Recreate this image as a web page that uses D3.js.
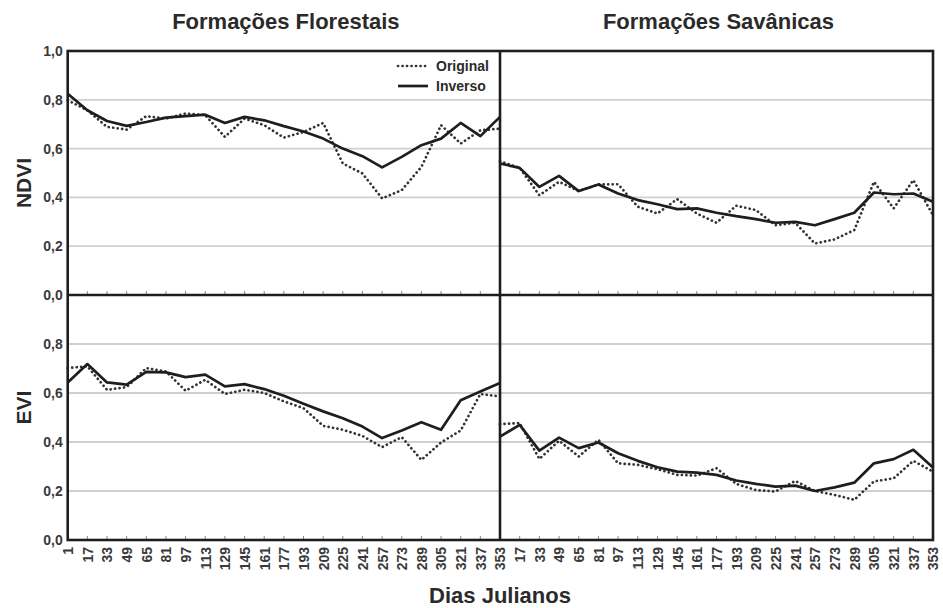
<!DOCTYPE html>
<html><head><meta charset="utf-8">
<script src="https://cdn.jsdelivr.net/npm/d3@7"></script>
<style>
body{margin:0;background:#fff;}
text{font-family:"Liberation Sans",Arial,sans-serif;font-weight:bold;}
</style></head>
<body><svg id="c" width="943" height="608"></svg>
<script>
const days = [1,17,33,49,65,81,97,113,129,145,161,177,193,209,225,241,257,273,289,305,321,337,353];
const panelTitles = ["Formações Florestais","Formações Savânicas"];
const indexNames = ["NDVI","EVI"];
const seriesNames = ["Original","Inverso"];
const yTicks = [0,0.2,0.4,0.6,0.8,1.0];

// NDVI - Formações Florestais
const ndviFlorOriginal = [0.798,0.757,0.689,0.678,0.733,0.723,0.744,0.737,0.648,0.723,0.696,0.645,0.668,0.705,0.539,0.498,0.396,0.430,0.525,0.696,0.621,0.675,0.682];
const ndviFlorInverso  = [0.825,0.757,0.713,0.693,0.709,0.727,0.733,0.739,0.705,0.730,0.716,0.692,0.670,0.641,0.600,0.569,0.523,0.566,0.614,0.641,0.705,0.651,0.730];
// NDVI - Formações Savânicas
const ndviSavOriginal = [0.548,0.521,0.409,0.464,0.426,0.453,0.454,0.362,0.334,0.393,0.334,0.296,0.366,0.348,0.286,0.296,0.211,0.228,0.266,0.464,0.355,0.471,0.327];
const ndviSavInverso  = [0.539,0.521,0.443,0.488,0.426,0.453,0.416,0.389,0.372,0.352,0.355,0.337,0.323,0.311,0.296,0.300,0.286,0.311,0.337,0.420,0.413,0.416,0.382];
// EVI - Formações Florestais
const eviFlorOriginal = [0.702,0.709,0.613,0.624,0.702,0.688,0.609,0.654,0.596,0.613,0.600,0.566,0.538,0.466,0.450,0.425,0.379,0.420,0.327,0.398,0.447,0.596,0.586];
const eviFlorInverso  = [0.643,0.718,0.643,0.634,0.686,0.684,0.665,0.675,0.627,0.636,0.616,0.589,0.556,0.525,0.497,0.463,0.416,0.447,0.481,0.450,0.570,0.606,0.641];
// EVI - Formações Savânicas
const eviSavOriginal = [0.473,0.477,0.331,0.405,0.341,0.409,0.313,0.307,0.289,0.266,0.263,0.293,0.229,0.204,0.198,0.241,0.200,0.184,0.164,0.239,0.252,0.323,0.279];
const eviSavInverso  = [0.422,0.470,0.365,0.418,0.375,0.398,0.354,0.323,0.297,0.279,0.275,0.266,0.243,0.229,0.218,0.222,0.200,0.215,0.234,0.313,0.330,0.368,0.296];

const panels = [
  {row:0,col:0,orig:ndviFlorOriginal,inv:ndviFlorInverso},
  {row:0,col:1,orig:ndviSavOriginal,inv:ndviSavInverso},
  {row:1,col:0,orig:eviFlorOriginal,inv:eviFlorInverso},
  {row:1,col:1,orig:eviSavOriginal,inv:eviSavInverso}
];

const svg = d3.select("#c");
const L = 67.7, M = 500, R = 933;
const T = 51, MY = 295, B = 540;
const colX = [[L,M],[M,R]];
const rowY = [[MY,T],[B,MY]];
const xs = colX.map(r => d3.scaleLinear().domain([1,353]).range(r));
const ys = rowY.map(r => d3.scaleLinear().domain([0,1]).range(r));

const ink = "#1e1e1e", gray = "#3a3a3a";

// gridlines
const g = svg.append("g");
[0,1].forEach(row=>{
  yTicks.filter(v=>v>0 && v<1).forEach(v=>{
    g.append("line").attr("x1",L).attr("x2",R).attr("y1",ys[row](v)).attr("y2",ys[row](v))
     .attr("stroke","#cfcfcf").attr("stroke-width",1.8);
  });
});

// small tick marks at bottom of each panel
[0,1].forEach(row=>{
  [0,1].forEach(col=>{
    days.forEach(d=>{
      const x = xs[col](d);
      g.append("line").attr("x1",x).attr("x2",x).attr("y1",ys[row](0)).attr("y2",ys[row](0)-4)
       .attr("stroke","#888").attr("stroke-width",1);
    });
  });
});

// data lines
panels.forEach(p=>{
  const line = d3.line().x((d,i)=>xs[p.col](days[i])).y(d=>ys[p.row](d));
  svg.append("path").attr("d",line(p.orig)).attr("fill","none").attr("stroke","#333")
    .attr("stroke-width",2.7).attr("stroke-dasharray","0.1,4.4").attr("stroke-linecap","round");
  svg.append("path").attr("d",line(p.inv)).attr("fill","none").attr("stroke",ink)
    .attr("stroke-width",2.7).attr("stroke-linejoin","round");
});

// frame
const f = svg.append("g").attr("stroke",ink).attr("stroke-width",2.6).attr("fill","none");
f.append("rect").attr("x",L).attr("y",T).attr("width",R-L).attr("height",B-T);
f.append("line").attr("x1",M).attr("x2",M).attr("y1",T).attr("y2",B);
f.append("line").attr("x1",L).attr("x2",R).attr("y1",MY).attr("y2",MY);

// y tick labels
const yAxisL = d3.axisLeft(ys[0]).tickValues(yTicks).tickSize(0).tickPadding(4)
  .tickFormat(d=>d3.format(".1f")(d).replace(".",","));
const ya = svg.append("g").attr("transform",`translate(${L-1},0)`).call(yAxisL);
const yAxisL2 = d3.axisLeft(ys[1]).tickValues(yTicks.filter(v=>v<1)).tickSize(0).tickPadding(4)
  .tickFormat(d=>d3.format(".1f")(d).replace(".",","));
const yb = svg.append("g").attr("transform",`translate(${L-1},0)`).call(yAxisL2);
[ya,yb].forEach(a=>{
  a.select(".domain").remove();
  a.selectAll("text").attr("font-size",14).attr("fill",gray).style("font-weight","bold")
   .attr("font-family","Liberation Sans, Arial, sans-serif");
});

// x tick labels
[0,1].forEach(col=>{
  const vals = col===0 ? days : days.slice(1);
  const ax = d3.axisBottom(xs[col]).tickValues(vals).tickSize(0).tickFormat(d3.format("d"));
  const a = svg.append("g").attr("transform",`translate(0,${B})`).call(ax);
  a.select(".domain").remove();
  a.selectAll("text").attr("font-size",14).attr("fill",gray).style("font-weight","bold")
   .attr("font-family","Liberation Sans, Arial, sans-serif")
   .attr("transform","rotate(-90)").attr("text-anchor","end")
   .attr("x",-7).attr("y",0).attr("dy","0.35em");
});

// panel titles
panelTitles.forEach((t,i)=>{
  svg.append("text").attr("x",(colX[i][0]+colX[i][1])/2+2).attr("y",29)
    .attr("text-anchor","middle").attr("font-size",22).attr("fill","#2a2a2a").text(t);
});
// index labels
indexNames.forEach((t,i)=>{
  const cy = (rowY[i][0]+rowY[i][1])/2 + (i===0?10:-10);
  svg.append("text").attr("transform",`translate(31,${cy}) rotate(-90)`)
    .attr("text-anchor","middle").attr("font-size",21).attr("fill","#2a2a2a").text(t);
});
// x axis title
svg.append("text").attr("x",500).attr("y",603).attr("text-anchor","middle")
  .attr("font-size",22).attr("fill","#2a2a2a").text("Dias Julianos");

// legend
const lg = svg.append("g");
seriesNames.forEach((s,i)=>{
  const y = 66 + i*20;
  const ln = lg.append("line").attr("x1",398).attr("x2",428).attr("y1",y).attr("y2",y)
    .attr("stroke",i===0?"#333":ink).attr("stroke-width",2.7);
  if(i===0) ln.attr("stroke-dasharray","0.1,4.4").attr("stroke-linecap","round");
  lg.append("text").attr("x",436).attr("y",y+5).attr("font-size",14).attr("fill","#2a2a2a").text(s);
});
</script></body></html>
